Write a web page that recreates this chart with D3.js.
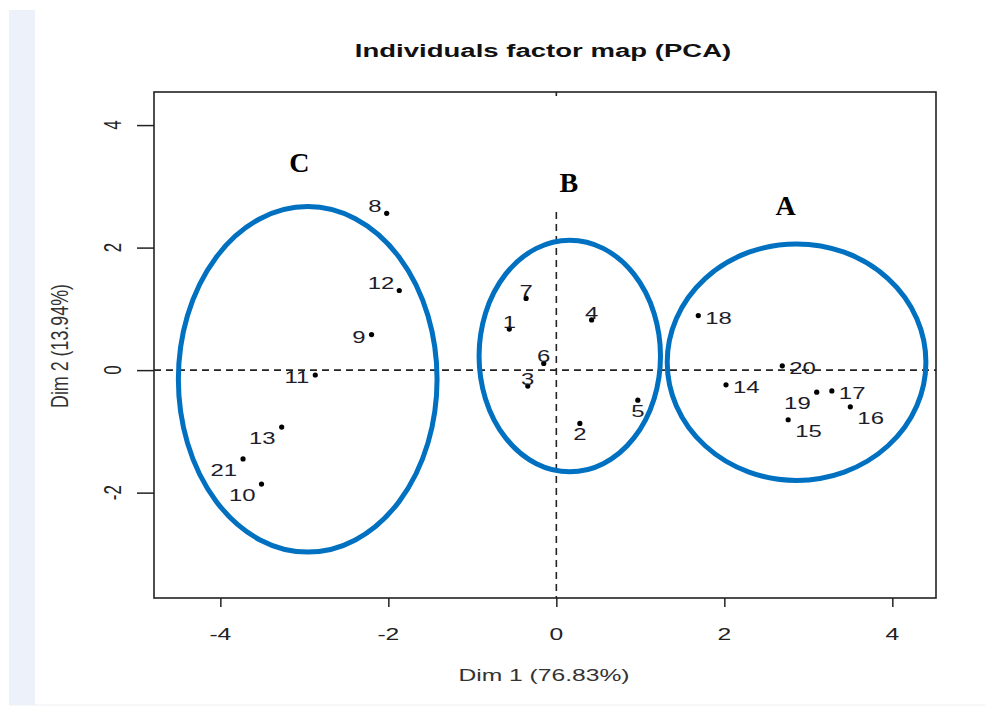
<!DOCTYPE html>
<html>
<head>
<meta charset="utf-8">
<script src="https://cdn.jsdelivr.net/npm/d3@7"></script>
<style>
  body { margin: 0; background: #ffffff; }
  svg { display: block; font-family: "Liberation Sans", Arial, sans-serif; }
</style>
</head>
<body>
<div id="chart"></div>
<script>
// individuals (PCA coordinates)
var ids = ["1", "2", "3", "4", "5", "6", "7", "8", "9", "10", "11",
           "12", "13", "14", "15", "16", "17", "18", "19", "20", "21"];
var dim1 = [-0.56, 0.28, -0.34, 0.42, 0.97, -0.15, -0.36, -2.02, -2.20, -3.51, -2.87,
            -1.87, -3.27, 2.02, 2.76, 3.50, 3.28, 1.69, 3.10, 2.69, -3.73];
var dim2 = [0.67, -0.87, -0.26, 0.82, -0.49, 0.11, 1.17, 2.56, 0.58, -1.86, -0.08,
            1.30, -0.93, -0.24, -0.81, -0.60, -0.34, 0.89, -0.36, 0.07, -1.45];
// where each label sits relative to its point
var labelSide = ["above", "below", "above", "above", "below", "above", "above", "aboveleft", "left", "belowleft", "left",
                 "aboveleft", "belowleft", "right", "belowright", "belowright", "right", "right", "belowleft", "right", "belowleft"];

// cluster ellipses (in Dim units)
var groupNames = ["A", "B", "C"];
var groupCx = [2.86, 0.16, -2.96];
var groupCy = [0.13, 0.23, -0.15];
var groupRx = [1.54, 1.08, 1.54];
var groupRy = [1.93, 1.89, 2.82];
var groupLabelX = [2.73, 0.15, -3.06];
var groupLabelY = [2.53, 2.91, 3.23];

var xTicks = [-4, -2, 0, 2, 4];
var yTicks = [-2, 0, 2, 4];

var width = 985, height = 706;
var box = { left: 154, right: 936, top: 92, bottom: 598 };
var sx = 1.45; // the original plot was stretched sideways, text too

var svg = d3.select('#chart').append('svg')
    .attr('width', width)
    .attr('height', height);

// page frame
svg.append('rect').attr('x', 9).attr('y', 10).attr('width', width - 9).attr('height', 695).attr('fill', '#fdfdfe');
svg.append('rect').attr('x', 9).attr('y', 10).attr('width', 26).attr('height', 695).attr('fill', '#edf2fa');
svg.append('line').attr('x1', 9).attr('x2', width).attr('y1', 705).attr('y2', 705)
    .attr('stroke', '#eef0f3').attr('stroke-width', 1);
svg.append('rect').attr('x', 35).attr('y', 10).attr('width', width - 35).attr('height', 694).attr('fill', '#ffffff');

var x = d3.scaleLinear().domain([-4.79, 4.52]).range([box.left, box.right]);
var y = d3.scaleLinear().domain([-3.72, 4.54]).range([box.bottom, box.top]);

function fmt(d) { return d < 0 ? '-' + Math.abs(d) : String(d); }

// dashed reference lines
svg.append('line')
    .attr('x1', box.left).attr('x2', box.right)
    .attr('y1', y(0)).attr('y2', y(0))
    .attr('stroke', '#222').attr('stroke-width', 1.6).attr('stroke-dasharray', '7,5');
svg.append('line')
    .attr('x1', x(0)).attr('x2', x(0))
    .attr('y1', box.top).attr('y2', box.bottom)
    .attr('stroke', '#222').attr('stroke-width', 1.6).attr('stroke-dasharray', '7,5');

// white patch behind the "B" annotation hides the top of the vertical line
svg.append('rect')
    .attr('x', x(0) - 20).attr('y', box.top + 4)
    .attr('width', 40).attr('height', 112)
    .attr('fill', '#ffffff');

// axes (ticks only, labels drawn below)
var xAxis = d3.axisBottom(x).tickValues(xTicks).tickSize(9).tickFormat('');
var yAxis = d3.axisLeft(y).tickValues(yTicks).tickSize(17).tickFormat('');

var gx = svg.append('g').attr('transform', 'translate(0,' + box.bottom + ')').call(xAxis);
gx.select('.domain').remove();
gx.selectAll('line').attr('stroke', '#222').attr('stroke-width', 1.5);

var gy = svg.append('g').attr('transform', 'translate(' + box.left + ',0)').call(yAxis);
gy.select('.domain').remove();
gy.selectAll('line').attr('stroke', '#222').attr('stroke-width', 1.5);

svg.selectAll('.xtick')
    .data(xTicks)
    .enter()
    .append('text')
    .attr('class', 'xtick')
    .attr('transform', function (d) { return 'translate(' + x(d) + ',640) scale(' + sx + ',1)'; })
    .attr('text-anchor', 'middle')
    .attr('font-size', 17).attr('fill', '#222')
    .text(fmt);

svg.selectAll('.ytick')
    .data(yTicks)
    .enter()
    .append('text')
    .attr('class', 'ytick')
    .attr('transform', function (d) { return 'translate(121,' + y(d) + ') rotate(-90) scale(1,' + sx + ')'; })
    .attr('text-anchor', 'middle')
    .attr('font-size', 17).attr('fill', '#222')
    .text(fmt);

// plot box
svg.append('rect')
    .attr('x', box.left).attr('y', box.top)
    .attr('width', box.right - box.left).attr('height', box.bottom - box.top)
    .attr('fill', 'none').attr('stroke', '#222').attr('stroke-width', 1.6);

// titles
svg.append('text')
    .attr('transform', 'translate(543,57) scale(' + sx + ',1)')
    .attr('text-anchor', 'middle')
    .attr('font-size', 19).attr('font-weight', 700).attr('fill', '#111')
    .text('Individuals factor map (PCA)');

svg.append('text')
    .attr('transform', 'translate(544,681) scale(' + sx + ',1)')
    .attr('text-anchor', 'middle')
    .attr('font-size', 17).attr('fill', '#333')
    .text('Dim 1 (76.83%)');

svg.append('text')
    .attr('transform', 'translate(68,346) rotate(-90) scale(1.05,' + sx + ')')
    .attr('text-anchor', 'middle')
    .attr('font-size', 17).attr('fill', '#333')
    .text('Dim 2 (13.94%)');

// cluster ellipses
var groups = groupNames.map(function (g, i) {
    return { name: g, cx: groupCx[i], cy: groupCy[i], rx: groupRx[i], ry: groupRy[i], lx: groupLabelX[i], ly: groupLabelY[i] };
});

svg.selectAll('.cluster')
    .data(groups)
    .enter()
    .append('ellipse')
    .attr('class', 'cluster')
    .attr('cx', function (d) { return x(d.cx); })
    .attr('cy', function (d) { return y(d.cy); })
    .attr('rx', function (d) { return x(d.cx + d.rx) - x(d.cx); })
    .attr('ry', function (d) { return y(d.cy) - y(d.cy + d.ry); })
    .attr('fill', 'none')
    .attr('stroke', '#0070c0')
    .attr('stroke-width', 5);

svg.selectAll('.cluster-label')
    .data(groups)
    .enter()
    .append('text')
    .attr('class', 'cluster-label')
    .attr('x', function (d) { return x(d.lx); })
    .attr('y', function (d) { return y(d.ly); })
    .attr('text-anchor', 'middle')
    .attr('font-family', '"Liberation Serif", "Times New Roman", serif')
    .attr('font-weight', 700)
    .attr('font-size', 28)
    .attr('fill', '#000')
    .text(function (d) { return d.name; });

// individuals
var points = ids.map(function (id, i) {
    return { id: id, d1: dim1[i], d2: dim2[i], side: labelSide[i] };
});

svg.selectAll('.pt')
    .data(points)
    .enter()
    .append('circle')
    .attr('class', 'pt')
    .attr('cx', function (d) { return x(d.d1); })
    .attr('cy', function (d) { return y(d.d2); })
    .attr('r', 2.6)
    .attr('fill', '#000');

var offsets = {
    above: [0, -1, 'middle'],
    below: [0, 17, 'middle'],
    left: [-6, 8, 'end'],
    right: [7, 8, 'start'],
    aboveleft: [-5, -1, 'end'],
    belowleft: [-6, 17, 'end'],
    belowright: [7, 17, 'start']
};

svg.selectAll('.lbl')
    .data(points)
    .enter()
    .append('text')
    .attr('class', 'lbl')
    .attr('transform', function (d) {
        var o = offsets[d.side];
        return 'translate(' + (x(d.d1) + o[0]) + ',' + (y(d.d2) + o[1]) + ') scale(' + sx + ',1)';
    })
    .attr('text-anchor', function (d) { return offsets[d.side][2]; })
    .attr('font-size', 16.5)
    .attr('fill', '#1d1d2b')
    .text(function (d) { return d.id; });
</script>
</body>
</html>
